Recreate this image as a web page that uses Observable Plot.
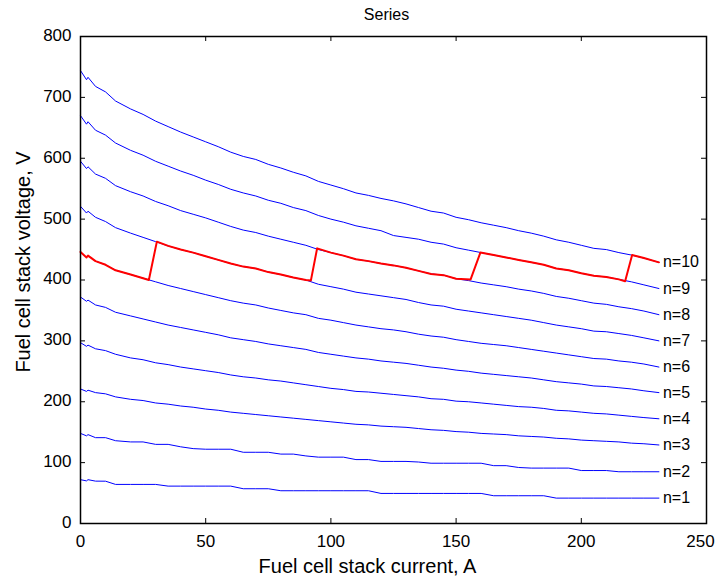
<!DOCTYPE html>
<html>
<head>
<meta charset="utf-8">
<script src="https://cdn.jsdelivr.net/npm/d3@7"></script>
<script src="https://cdn.jsdelivr.net/npm/@observablehq/plot@0.6"></script>
<style>
  html, body { margin: 0; padding: 0; background: #ffffff; }
  #chart svg { display: block; }
</style>
</head>
<body>
<div id="chart"></div>
<script>
// ---- data ----
const titleText = "Series";
const xLabel = "Fuel cell stack current, A";
const yLabel = "Fuel cell stack voltage, V";
const xTicks = [0, 50, 100, 150, 200, 250];
const yTicks = [0, 100, 200, 300, 400, 500, 600, 700, 800];
const seriesNames = ["n=1", "n=2", "n=3", "n=4", "n=5", "n=6", "n=7", "n=8", "n=9", "n=10"];

// stack current (A) sample points shared by the blue curves
const current = [0, 2.4, 3, 6, 10, 14, 20, 25, 30, 35, 40, 45, 50, 55, 60, 65, 70, 75, 80, 85, 90, 95, 100, 105, 110, 115, 120, 125, 130, 135, 140, 145, 150, 155, 160, 165, 170, 175, 180, 185, 190, 195, 200, 205, 210, 215, 220, 225, 231];

const v1 = [72, 70, 72, 69.6, 69.5, 64.2, 64.2, 64.2, 64.2, 61.4, 61.4, 61.4, 61.4, 61.4, 61.4, 57.1, 57.1, 57.1, 53.8, 53.8, 53.8, 53.8, 53.8, 53.8, 53.8, 53.8, 49.4, 49.4, 49.4, 49.4, 49.4, 49.4, 49.4, 49.4, 49.4, 45.6, 45.6, 45.6, 45.6, 45.6, 41.7, 41.7, 41.7, 41.7, 41.7, 41.7, 41.7, 41.7, 41.7];
const v2 = [148, 144, 146, 141, 141, 136, 134, 134, 130, 130, 126, 123, 122, 122, 122, 117, 117, 117, 114, 114, 111, 109, 109, 109, 105, 105, 102, 102, 102, 101, 99, 99, 99, 99, 99, 95, 95, 92, 91, 91, 91, 91, 87, 87, 87, 85, 85, 85, 85];
const v3 = [221, 217, 219, 215, 213, 208, 204, 202, 198, 196, 193, 191, 188, 186, 183, 181, 179, 177, 175, 173, 171, 169, 167, 165, 163, 162, 160, 159, 158, 156, 154, 153, 151, 150, 148, 147, 146, 144, 143, 142, 140, 139, 137, 136, 135, 134, 132, 131, 129];
const v4 = [297, 291, 293, 287, 284, 278, 272, 269, 264, 261, 257, 254, 251, 248, 244, 241, 239, 236, 234, 231, 228, 225, 222, 220, 217, 216, 214, 212, 210, 208, 205, 204, 201, 200, 198, 196, 194, 192, 191, 189, 186, 185, 183, 181, 180, 178, 176, 174, 172];
const v5 = [372, 365, 367, 359, 355, 347, 341, 336, 331, 326, 322, 318, 314, 310, 305, 302, 299, 295, 292, 289, 286, 281, 278, 275, 272, 270, 267, 265, 263, 260, 257, 255, 252, 250, 247, 245, 243, 241, 239, 236, 233, 231, 229, 226, 225, 223, 221, 218, 215];
const v6 = [446, 437, 440, 431, 425, 416, 409, 403, 397, 391, 386, 381, 376, 371, 366, 362, 359, 354, 350, 346, 343, 337, 334, 330, 326, 323, 320, 318, 315, 311, 308, 306, 302, 299, 296, 294, 292, 289, 286, 283, 280, 277, 274, 271, 270, 267, 265, 262, 257];
const v7 = [521, 510, 513, 503, 496, 486, 477, 470, 463, 456, 450, 445, 439, 433, 427, 422, 419, 413, 409, 404, 400, 393, 389, 385, 380, 377, 374, 371, 368, 363, 359, 357, 352, 349, 346, 343, 340, 337, 334, 330, 326, 323, 320, 316, 315, 312, 309, 305, 300];
const v8 = [595, 583, 586, 574, 567, 555, 545, 538, 529, 522, 514, 508, 502, 495, 488, 482, 478, 472, 467, 462, 457, 450, 445, 440, 434, 431, 427, 424, 420, 415, 410, 408, 402, 399, 395, 392, 389, 385, 382, 378, 373, 370, 366, 362, 360, 356, 353, 349, 343];
const v9 = [670, 656, 660, 646, 638, 625, 613, 605, 595, 587, 579, 572, 564, 557, 549, 543, 538, 531, 526, 519, 514, 506, 500, 495, 489, 485, 481, 473, 470, 467, 462, 459, 453, 449, 445, 441, 437, 433, 429, 425, 419, 416, 411, 407, 405, 401, 397, 392, 386];
const v10 = [744, 729, 733, 718, 709, 694, 681, 672, 661, 652, 643, 635, 627, 619, 610, 603, 598, 590, 584, 577, 571, 562, 556, 550, 543, 539, 534, 530, 525, 519, 513, 510, 503, 499, 494, 490, 486, 481, 477, 472, 466, 462, 457, 452, 450, 445, 441, 436, 429];
const seriesValues = [v1, v2, v3, v4, v5, v6, v7, v8, v9, v10];

// red operating path (switching number of stacks)
const redCurrent = [0, 2.4, 3, 6, 10, 14, 20, 25, 27.3, 30.5, 35, 40, 45, 50, 55, 60, 65, 70, 75, 80, 85, 90, 92, 94.5, 100, 105, 110, 115, 120, 125, 130, 135, 140, 145, 150, 155.8, 159.7, 165, 170, 175, 180, 185, 190, 195, 200, 205, 210, 215, 217.5, 220.3, 225, 231];
const redVoltage = [446, 437, 440, 431, 425, 416, 409, 403, 400, 463, 456, 450, 445, 439, 433, 427, 422, 419, 413, 409, 404, 400, 399, 452, 445, 440, 434, 431, 427, 424, 420, 415, 410, 408, 402, 401, 445, 441, 437, 433, 429, 425, 419, 416, 411, 407, 405, 401, 398, 441, 436, 429];

// ---- build tables ----
const rows = seriesNames.flatMap((name, k) => current.map((I, i) => ({I, V: seriesValues[k][i], name})));
const redRows = redCurrent.map((I, i) => ({I, V: redVoltage[i]}));
const last = current.length - 1;
const endRows = seriesNames.map((name, k) => ({I: current[last], V: seriesValues[k][last], name}));

const W = 715, H = 582, mL = 80, mR = 9, mT = 36, mB = 59;
const innerW = W - mL - mR, innerH = H - mT - mB;
const tickLen = 5;
const xTicksInner = xTicks.slice(0, -1);
const xTickLast = xTicks.slice(-1);

const chart = Plot.plot({
  width: W,
  height: H,
  marginLeft: mL,
  marginRight: mR,
  marginTop: mT,
  marginBottom: mB,
  x: {domain: [0, 250]},
  y: {domain: [0, 800]},
  style: {fontFamily: "'Liberation Sans', Arial, Helvetica, sans-serif", background: "#ffffff", color: "#000000"},
  marks: [
    Plot.line(rows, {x: "I", y: "V", z: "name", stroke: "#0000ff", strokeWidth: 1}),
    Plot.line(redRows, {x: "I", y: "V", stroke: "#ff0000", strokeWidth: 2}),
    Plot.text(endRows, {x: "I", y: "V", text: "name", dx: 4, textAnchor: "start", lineAnchor: "middle", fontSize: 16}),
    Plot.frame({stroke: "#000000", strokeWidth: 1.5}),
    Plot.tickX(xTicks, {x: d => d, insetTop: innerH - tickLen, stroke: "#000000"}),
    Plot.tickX(xTicks, {x: d => d, insetBottom: innerH - tickLen, stroke: "#000000"}),
    Plot.tickY(yTicks, {y: d => d, insetRight: innerW - tickLen, stroke: "#000000"}),
    Plot.tickY(yTicks, {y: d => d, insetLeft: innerW - tickLen, stroke: "#000000"}),
    Plot.axisX(xTicksInner, {anchor: "bottom", tickSize: 0, tickPadding: 11, fontSize: 17, label: null}),
    Plot.axisX(xTickLast, {anchor: "bottom", tickSize: 0, tickPadding: 11, fontSize: 17, label: null, dx: -6}),
    Plot.axisY(yTicks, {anchor: "left", tickSize: 0, tickPadding: 9, fontSize: 17, label: null, dy: -1}),
    Plot.text([titleText], {frameAnchor: "top", textAnchor: "middle", lineAnchor: "middle", dy: -22, dx: -7, fontSize: 16}),
    Plot.text([xLabel], {frameAnchor: "bottom", textAnchor: "middle", lineAnchor: "middle", dy: 43, dx: -26, fontSize: 20}),
    Plot.text([yLabel], {frameAnchor: "left", textAnchor: "middle", lineAnchor: "middle", rotate: -90, dx: -57, dy: -18, fontSize: 20})
  ]
});
document.getElementById("chart").appendChild(chart);
</script>
</body>
</html>
